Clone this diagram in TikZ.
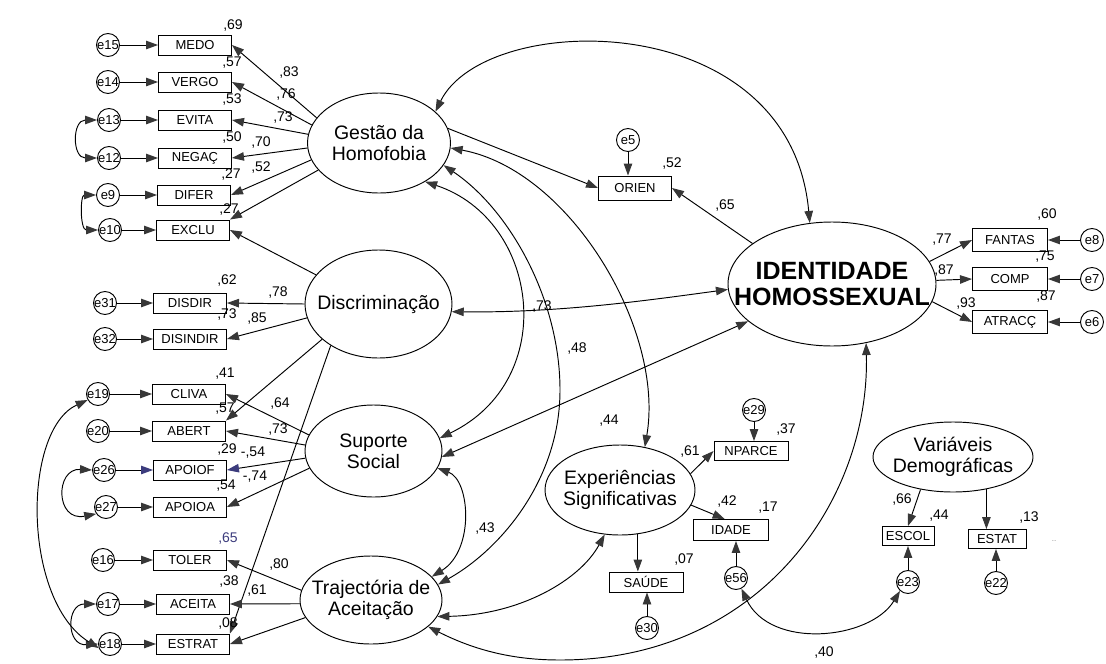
\documentclass[tikz,border=0pt]{standalone}
\usepackage{fontspec}
\setmainfont{Liberation Sans}
\usetikzlibrary{shapes.geometric,arrows.meta}
\definecolor{tipc}{RGB}{55,55,55}
\definecolor{bluish}{RGB}{60,60,125}
\begin{document}
\begin{tikzpicture}[x=1pt,y=-1pt,line width=0.95pt,
  box/.style={draw, rectangle, minimum width=73pt, minimum height=20pt, inner sep=0pt, font=\fontsize{13}{13}\selectfont},
  err/.style={draw, circle, minimum size=23pt, inner sep=0pt},
  errt/.style={font=\fontsize{13}{13}\selectfont, inner sep=0pt},
  lat/.style={draw, ellipse, inner sep=0pt},
  latt/.style={font=\fontsize{19.5}{21}\selectfont, align=center, inner sep=0pt},
  num/.style={font=\fontsize{14}{14}\selectfont, inner sep=0pt},
  arr/.style={-{Triangle[length=12pt,width=8.5pt,color=tipc]}},
  darr/.style={{Triangle[length=12pt,width=8.5pt,color=tipc]}-{Triangle[length=12pt,width=8.5pt,color=tipc]}},
  arrb/.style={-{Triangle[length=12pt,width=8.5pt,color=bluish]}},
]
\fill[white] (0,0) rectangle (1106,664);
\useasboundingbox (0,0) rectangle (1106,664);

% ---------- latent variables ----------
\node[lat, minimum width=143pt, minimum height=100pt, label={[latt,name=Gt]center:Gestão da\\Homofobia}] (G) at (379,143) {};
\node[lat, minimum width=147pt, minimum height=108pt, label={[latt,name=Dt]center:Discriminação}] (D) at (378.5,304) {};
\node[lat, minimum width=137pt, minimum height=92pt, label={[latt,name=St]center:Suporte\\Social}] (S) at (373.5,451) {};
\node[lat, minimum width=142pt, minimum height=88pt, label={[latt,name=Tt]center:Trajectória de\\Aceitação}] (T) at (371,600) {};
\node[lat, minimum width=150pt, minimum height=90pt, label={[latt,name=Xt]center:Experiências\\Significativas}] (X) at (620,490) {};
\node[lat, minimum width=208pt, minimum height=124pt, label={[font=\bfseries\fontsize{25}{26}\selectfont, align=center, inner sep=0pt, name=It]center:IDENTIDADE\\HOMOSSEXUAL}] (I) at (832,284) {};
\node[lat, minimum width=160pt, minimum height=70pt, label={[latt,name=Vt]center:Variáveis\\Demográficas}] (V) at (953,457) {};

% ---------- observed variables ----------
\node[box] (MEDO) at (195,45) {MEDO};
\node[box] (VERGO) at (195,82) {VERGO};
\node[box] (EVITA) at (195,120) {EVITA};
\node[box] (NEGAC) at (195,158) {NEGAÇ};
\node[box] (DIFER) at (194,195) {DIFER};
\node[box] (EXCLU) at (193,230) {EXCLU};
\node[box] (DISDIR) at (190,303) {DISDIR};
\node[box] (DISINDIR) at (190,339) {DISINDIR};
\node[box] (CLIVA) at (189,394) {CLIVA};
\node[box] (ABERT) at (189,431) {ABERT};
\node[box] (APOIOF) at (190,470) {APOIOF};
\node[box] (APOIOA) at (190,507) {APOIOA};
\node[box] (TOLER) at (190,560) {TOLER};
\node[box] (ACEITA) at (193,604) {ACEITA};
\node[box] (ESTRAT) at (193,644) {ESTRAT};
\node[box, minimum height=24pt] (ORIEN) at (635,188) {ORIEN};
\node[box, minimum width=75pt, minimum height=23pt] (FANTAS) at (1010,240) {FANTAS};
\node[box, minimum width=75pt, minimum height=23pt] (COMP) at (1010,279) {COMP};
\node[box, minimum width=75pt, minimum height=23pt] (ATRACC) at (1010,322) {ATRACÇ};
\node[box, minimum width=74pt, minimum height=19pt] (NPARCE) at (751,451) {NPARCE};
\node[box, minimum width=75pt, minimum height=21pt] (IDADE) at (731,530) {IDADE};
\node[box, minimum width=74pt] (SAUDE) at (646,582) {SAÚDE};
\node[box, minimum width=52pt, minimum height=19pt] (ESCOL) at (908,536) {ESCOL};
\node[box, minimum width=58pt, minimum height=19pt] (ESTAT) at (997,539) {ESTAT};

% ---------- error terms ----------
\foreach \n/\x/\y in {e15/108/45, e14/108/82, e13/109/120, e12/109/158, e9/108/195, e10/110/230,
  e31/105/303, e32/105/339, e19/98/394, e20/98/431, e26/104/470, e27/106/507,
  e16/103/560, e17/108/604, e18/110/644, e5/628/140, e8/1092/240, e7/1092/279, e6/1092/322,
  e29/754/410, e30/647/628, e56/736/578, e23/908/582, e22/996/583}
  \node[err, label={[errt,name=\n t]center:\n}] (\n) at (\x,\y) {};

% ---------- error -> indicator ----------
\foreach \e/\b in {e15/MEDO, e14/VERGO, e13/EVITA, e12/NEGAC, e9/DIFER, e10/EXCLU,
  e31/DISDIR, e32/DISINDIR, e19/CLIVA, e20/ABERT, e27/APOIOA,
  e16/TOLER, e17/ACEITA, e18/ESTRAT}
  \draw[arr] (\e.east) -- (\b.west);
\draw[arrb] (e26.east) -- (APOIOF.west);
\foreach \e/\b in {e8/FANTAS, e7/COMP, e6/ATRACC}
  \draw[arr] (\e.west) -- (\b.east);
\draw[arr] (e5.south) -- (e5.south |- ORIEN.north);
\draw[arr] (e29.south) -- (e29.south |- NPARCE.north);
\draw[arr] (e30.north) -- (e30.north |- SAUDE.south);
\draw[arr] (e56.north) -- (e56.north |- IDADE.south);
\draw[arr] (e23.north) -- (e23.north |- ESCOL.south);
\draw[arr] (e22.north) -- (e22.north |- ESTAT.south);

% ---------- loadings ----------
\draw[arr] (G.158) -- (MEDO.east);
\draw[arr] (G.165) -- (VERGO.east);
\draw[arr] (G.173) -- (EVITA.east);
\draw[arr] (G.184) -- (NEGAC.east);
\draw[arr] (G.194) -- (DIFER.east);
\draw[arr] (G.204) -- (EXCLU.north east);
\draw[arr] (D.155) -- (EXCLU.east);
\draw[arr] (D.180) -- (DISDIR.east);
\draw[arr] (D.191) -- (DISINDIR.east);
\draw[arr] (D.212) -- (ABERT.north east);
\draw[arr] (D.221) -- (ESTRAT.north east);
\draw[arr] (S.166) -- (CLIVA.east);
\draw[arr] (S.175) -- (ABERT.east);
\draw[arrb] (S.186) -- (APOIOF.east);
\draw[arr] (S.195) -- (APOIOA.east);
\draw[arr] (T.172) -- (TOLER.east);
\draw[arr] (T.183) -- (ACEITA.east);
\draw[arr] (T.195) -- (ESTRAT.east);
\draw[arr] (G.12) -- (ORIEN.west);
\draw[arr] (I.153) -- (ORIEN.east);
\draw[arr] (I.13) -- (FANTAS.west);
\draw[arr] (I.2) -- (COMP.west);
\draw[arr] (I.350) -- (ATRACC.west);
\draw[arr] (X.13) -- (NPARCE.west);
\draw[arr] (X.348) -- (IDADE.120);
\draw[arr] (X.292) -- (X.292 |- SAUDE.north);
\draw[arr] (V.225) -- (ESCOL.north);
\draw[arr] (V.316) -- (V.316 |- ESTAT.north);

% ---------- covariances ----------
\draw[darr] (e13.west) .. controls (72,120) and (72,158) .. (e12.west);
\draw[darr] (e9.west) .. controls (80,195) and (80,230) .. (e10.west);
\draw[darr] (e26.west) .. controls (55,468) and (55,522) .. (e27.215);
\draw[darr] (e17.west) .. controls (66,604) and (66,646) .. (e18.west);
\draw[darr] (e19.210) .. controls (22,430) and (22,600) .. (e18.200);
\draw[darr] (G.29) .. controls (485,10) and (790,5) .. (I.110);
\draw[darr] (G.320) .. controls (540,220) and (560,380) .. (S.11);
\draw[darr] (G.341) .. controls (510,210) and (560,300) .. (560,390) .. controls (560,480) and (500,550) .. (T.13);
\draw[darr] (G.356) .. controls (570,170) and (665,330) .. (X.60);
\draw[darr] (D.354) .. controls (560,313) and (650,300) .. (I.183);
\draw[darr] (S.355) -- (I.204);
\draw[darr] (S.345) .. controls (470,480) and (475,550) .. (T.21);
\draw[darr] (T.346) .. controls (520,615) and (580,580) .. (X.251);
\draw[darr] (T.335) .. controls (480,653) and (520,660) .. (560,660) .. controls (760,660) and (870,500) .. (I.300);
\draw[darr] (e56.297) .. controls (770,650) and (870,640) .. (e23.228);

% ---------- coefficients ----------
\foreach \x/\y/\t [count=\i] in {233/26/{,69}, 232/63/{,57}, 232/100/{,53}, 232/138/{,50}, 231/175/{,27}, 229/210/{,27},
  289/73/{,83}, 286/95/{,76}, 283/118/{,73}, 261/143/{,70}, 261/168/{,52},
  227/281/{,62}, 278/293/{,78}, 227/315/{,73}, 257/319/{,85},
  225/374/{,41}, 280/404/{,64}, 225/409/{,57}, 278/430/{,73}, 227/450/{,29}, 253/453/{-,54}, 255/477/{-,74}, 226/486/{,54},
  279/565/{,80}, 229/582/{,38}, 257/591/{,61}, 228/623/{,08},
  672/164/{,52}, 725/206/{,65}, 1047/215/{,60}, 942/240/{,77}, 1045/257/{,75}, 944/271/{,87}, 966/304/{,93}, 1046/297/{,87},
  786/430/{,37}, 542/307/{,73}, 577/349/{,48}, 609/421/{,44}, 485/529/{,43},
  690/452/{,61}, 727/502/{,42}, 768/508/{,17}, 684/560/{,07}, 902/500/{,66}, 939/516/{,44}, 1029/518/{,13}, 824/652/{,40}}
  \node[num] (c\i) at (\x,\y) {\t};
\node[num, text=bluish] (c65) at (228,539) {,65};
\node[num, text=black!45, font=\fontsize{8}{8}\selectfont] (dots) at (1054,541) {..};
\end{tikzpicture}
\end{document}
